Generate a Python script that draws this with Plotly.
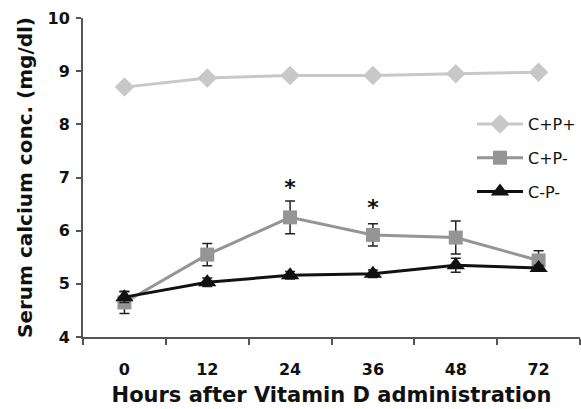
import plotly.graph_objects as go

hours = ["0", "12", "24", "36", "48", "72"]
cpp = [8.70, 8.87, 8.92, 8.92, 8.95, 8.98]
cpm = [4.65, 5.55, 6.25, 5.92, 5.87, 5.44]
cpm_err = [0.21, 0.21, 0.31, 0.21, 0.31, 0.18]
cmm = [4.75, 5.03, 5.16, 5.19, 5.35, 5.30]
cmm_err = [0.10, 0.08, 0.07, 0.07, 0.13, 0.05]
star_hours = ["24", "36"]
star_y = [6.78, 6.40]

FONT = "DejaVu Sans"

fig = go.Figure()
fig.add_trace(go.Scatter(x=hours, y=cpp, name="C+P+", mode="lines+markers", legendgroup="a",
                         line=dict(color="#c8c8c8", width=3),
                         marker=dict(symbol="diamond", size=15, color="#c8c8c8")))
fig.add_trace(go.Scatter(x=hours, y=cpm, name="C+P-", mode="lines+markers", legendgroup="b",
                         line=dict(color="#959595", width=3),
                         marker=dict(symbol="square", size=14, color="#959595"),
                         error_y=dict(type="data", array=cpm_err, color="#222", thickness=1.5, width=5)))
fig.add_trace(go.Scatter(x=hours, y=cmm, name="C-P-", mode="lines+markers", legendgroup="c",
                         line=dict(color="#111111", width=3),
                         marker=dict(symbol="triangle-up", size=16, color="#111111"),
                         error_y=dict(type="data", array=cmm_err, color="#222", thickness=1.5, width=5)))
fig.add_trace(go.Scatter(x=star_hours, y=star_y, mode="text", text=["<b>*</b>"] * len(star_hours),
                         textposition="middle center", showlegend=False, hoverinfo="skip",
                         textfont=dict(family=FONT, size=22, color="#111")))

fig.update_layout(
    width=581, height=409,
    margin=dict(l=83, r=0, t=18, b=72),
    plot_bgcolor="white", paper_bgcolor="white",
    font=dict(family=FONT, color="#111"),
    legend=dict(x=0.783, y=0.721, xanchor="left", yanchor="top",
                font=dict(family=FONT, size=16, color="#111"),
                bgcolor="rgba(0,0,0,0)", tracegroupgap=10, itemwidth=46),
    showlegend=True,
)
fig.update_xaxes(type="category", range=[-0.5, 5.5], showline=True, linecolor="#555", linewidth=2,
                 ticks="outside", tickson="boundaries", ticklen=6, tickcolor="#555", tickwidth=1.5,
                 ticklabelstandoff=17, tickprefix="<b>", ticksuffix="</b>",
                 tickfont=dict(family=FONT, size=16, color="#111", weight="bold"),
                 title=dict(text="<b>Hours after Vitamin D administration</b>",
                            font=dict(family=FONT, size=21, color="#111"), standoff=9),
                 showgrid=False, zeroline=False)
fig.update_yaxes(range=[4, 10], dtick=1, showline=True, linecolor="#555", linewidth=2,
                 ticks="outside", ticklen=5, tickcolor="#555", tickwidth=1.5,
                 ticklabelstandoff=3, tickprefix="<b>", ticksuffix="</b>",
                 tickfont=dict(family=FONT, size=16, color="#111", weight="bold"),
                 title=dict(text="<b>Serum calcium conc. (mg/dl)</b>",
                            font=dict(family=FONT, size=20, color="#111"), standoff=10),
                 showgrid=False, zeroline=False)

fig.write_html("out.html")
